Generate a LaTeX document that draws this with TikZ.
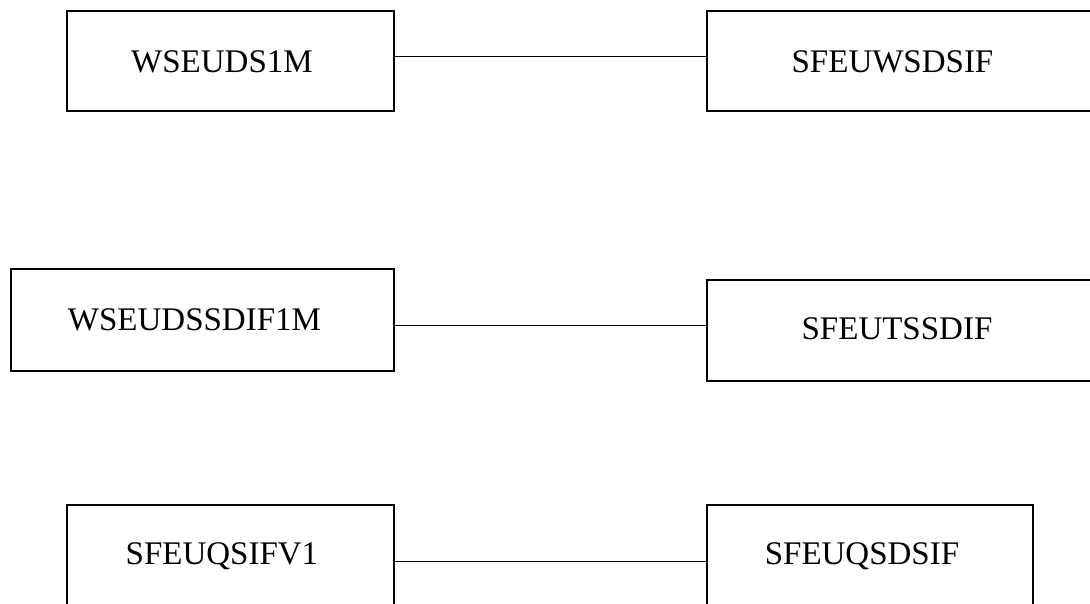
\documentclass[tikz,border=0pt]{standalone}
\usepackage{fontspec}
\setmainfont{Liberation Serif}
\begin{document}
\begin{tikzpicture}[x=1pt,y=-1pt,
  boxframe/.style={draw=black,line width=1.7pt,fill=none},
  boxlabel/.style={inner sep=0pt,font=\fontsize{33}{36}\selectfont},
  link/.style={draw=black,line width=0.9pt}]
\useasboundingbox (0,0) rectangle (1090,603);
\clip (0,0) rectangle (1090,603);

% frames (some run past the page edge)
\draw[boxframe] (67,10.7) rectangle (394,111);
\draw[boxframe] (707,10.7) rectangle (1110,111);
\draw[boxframe] (11,269) rectangle (394,370.7);
\draw[boxframe] (707,280) rectangle (1110,381);
\draw[boxframe] (67,640) -- (67,505) -- (394,505) -- (394,640);
\draw[boxframe] (707,640) -- (707,505) -- (1033,505) -- (1033,640);

% edge anchors of the frames
\coordinate (a1) at (394,56);   \coordinate (b1) at (707,56);
\coordinate (a2) at (394,325.5); \coordinate (b2) at (707,325.5);
\coordinate (a3) at (394,561);  \coordinate (b3) at (707,561);

% labels
\node[boxlabel] (t1) at (222,62) {WSEUDS1M};
\node[boxlabel] (t2) at (892.5,62) {SFEUWSDSIF};
\node[boxlabel] (t3) at (194.5,319.5) {WSEUDSSDIF1M};
\node[boxlabel] (t4) at (897,329) {SFEUTSSDIF};
\node[boxlabel] (t5) at (222,556.5) {SFEUQSIFV1};
\node[boxlabel] (t6) at (862,556.5) {SFEUQSDSIF};

% connectors
\draw[link] (a1) -- (b1);
\draw[link] (a2) -- (b2);
\draw[link] (a3) -- (b3);
\end{tikzpicture}
\end{document}
